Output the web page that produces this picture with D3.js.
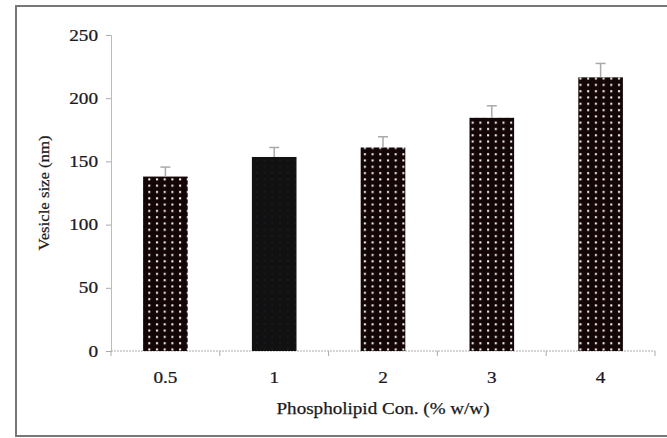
<!DOCTYPE html>
<html>
<head>
<meta charset="utf-8">
<script src="https://cdn.jsdelivr.net/npm/d3@7"></script>
<style>
  body { margin: 0; background: #fff; }
  svg text { font-family: "Liberation Serif", "Times New Roman", serif; fill: #1a1a22; stroke: #1a1a22; stroke-width: 0.25px; }
</style>
</head>
<body>
<div id="chart"></div>
<script>
var categories = ['0.5', '1', '2', '3', '4'];
var sizes = [138, 153.5, 161, 184.5, 216.5];
var errors = [7.5, 7.5, 8.5, 9.5, 11];
var yTicks = [0, 50, 100, 150, 200, 250];

var W = 667, H = 438;

var svg = d3.select('#chart')
  .append('svg')
  .attr('width', W)
  .attr('height', H);

// dotted fill for the bars
var defs = svg.append('defs');
var dots = defs.append('pattern')
  .attr('id', 'dots')
  .attr('patternUnits', 'userSpaceOnUse')
  .attr('width', 7.7)
  .attr('height', 6.3);
dots.append('rect').attr('width', 7.7).attr('height', 6.3).attr('fill', '#140606');
dots.append('rect').attr('x', 2).attr('y', 2).attr('width', 2).attr('height', 2).attr('fill', '#fff');

var solid = defs.append('pattern')
  .attr('id', 'solid')
  .attr('patternUnits', 'userSpaceOnUse')
  .attr('width', 7.7)
  .attr('height', 6.3);
solid.append('rect').attr('width', 7.7).attr('height', 6.3).attr('fill', '#111');
solid.append('rect').attr('x', 2).attr('y', 2).attr('width', 1.5).attr('height', 1.5).attr('fill', '#1c1c2a');

// frame (no right edge visible in the original)
svg.append('path')
  .attr('d', 'M' + (W + 5) + ',6 H16 V436 H' + (W + 5))
  .attr('fill', 'none')
  .attr('stroke', '#777')
  .attr('stroke-width', 2);

var x = d3.scaleBand()
  .domain(categories)
  .range([111, 655])
  .paddingInner(0.59)
  .paddingOuter(0.295);

var y = d3.scaleLinear()
  .domain([0, 250])
  .range([351, 35]);

// y axis
var yAxis = svg.append('g')
  .attr('transform', 'translate(111,0)')
  .call(d3.axisLeft(y).tickValues(yTicks).tickSize(5).tickPadding(0));
yAxis.attr('font-family', null);
yAxis.select('.domain').attr('stroke', '#bbb');
yAxis.selectAll('.tick line').attr('stroke', '#aaa');
yAxis.selectAll('.tick text')
  .attr('x', null)
  .attr('fill', null)
  .attr('transform', 'translate(-13,0) scale(1.2,1)')
  .style('font-size', '16px');

// x axis: dotted baseline, ticks on band edges
var gap = x.step() - x.bandwidth();
var edges = categories.map(function(c) { return x(c) - gap / 2; });
edges.push(x(categories[categories.length - 1]) + x.bandwidth() + gap / 2);

svg.append('line')
  .attr('x1', 111).attr('x2', 655)
  .attr('y1', y(0)).attr('y2', y(0))
  .attr('stroke', '#aaa')
  .attr('stroke-dasharray', '2,1');

svg.selectAll('.xtick')
  .data(edges)
  .enter()
  .append('line')
  .attr('class', 'xtick')
  .attr('x1', function(d) { return d; })
  .attr('x2', function(d) { return d; })
  .attr('y1', y(0))
  .attr('y2', y(0) + 5)
  .attr('stroke', '#aaa');

svg.selectAll('.xlabel')
  .data(categories)
  .enter()
  .append('text')
  .attr('class', 'xlabel')
  .attr('transform', function(d) { return 'translate(' + (x(d) + x.bandwidth() / 2) + ',383) scale(1.2,1)'; })
  .attr('text-anchor', 'middle')
  .style('font-size', '16px')
  .text(function(d) { return d; });

// bars
svg.selectAll('.bar')
  .data(sizes)
  .enter()
  .append('rect')
  .attr('class', 'bar')
  .attr('x', function(d, i) { return x(categories[i]); })
  .attr('y', function(d) { return y(d); })
  .attr('width', x.bandwidth())
  .attr('height', function(d) { return y(0) - y(d); })
  .attr('fill', function(d, i) { return i === 1 ? 'url(#solid)' : 'url(#dots)'; });

// error bars (upper only)
var err = svg.selectAll('.err')
  .data(sizes)
  .enter()
  .append('g')
  .attr('class', 'err')
  .attr('transform', function(d, i) { return 'translate(' + (x(categories[i]) + x.bandwidth() / 2) + ',0)'; });

err.append('line')
  .attr('x1', 0).attr('x2', 0)
  .attr('y1', function(d) { return y(d); })
  .attr('y2', function(d, i) { return y(d + errors[i]); })
  .attr('stroke', '#aaa')
  .attr('stroke-width', 1.5);

err.append('line')
  .attr('x1', -5).attr('x2', 5)
  .attr('y1', function(d, i) { return y(d + errors[i]); })
  .attr('y2', function(d, i) { return y(d + errors[i]); })
  .attr('stroke', '#aaa')
  .attr('stroke-width', 1.5);

// axis titles
svg.append('text')
  .attr('x', 383)
  .attr('y', 414)
  .attr('text-anchor', 'middle')
  .attr('textLength', 213)
  .attr('lengthAdjust', 'spacingAndGlyphs')
  .style('font-size', '16px')
  .text('Phospholipid Con. (% w/w)');

svg.append('text')
  .attr('transform', 'translate(49,193) rotate(-90)')
  .attr('text-anchor', 'middle')
  .attr('textLength', 115)
  .attr('lengthAdjust', 'spacingAndGlyphs')
  .style('font-size', '15px')
  .text('Vesicle size (nm)');
</script>
</body>
</html>
